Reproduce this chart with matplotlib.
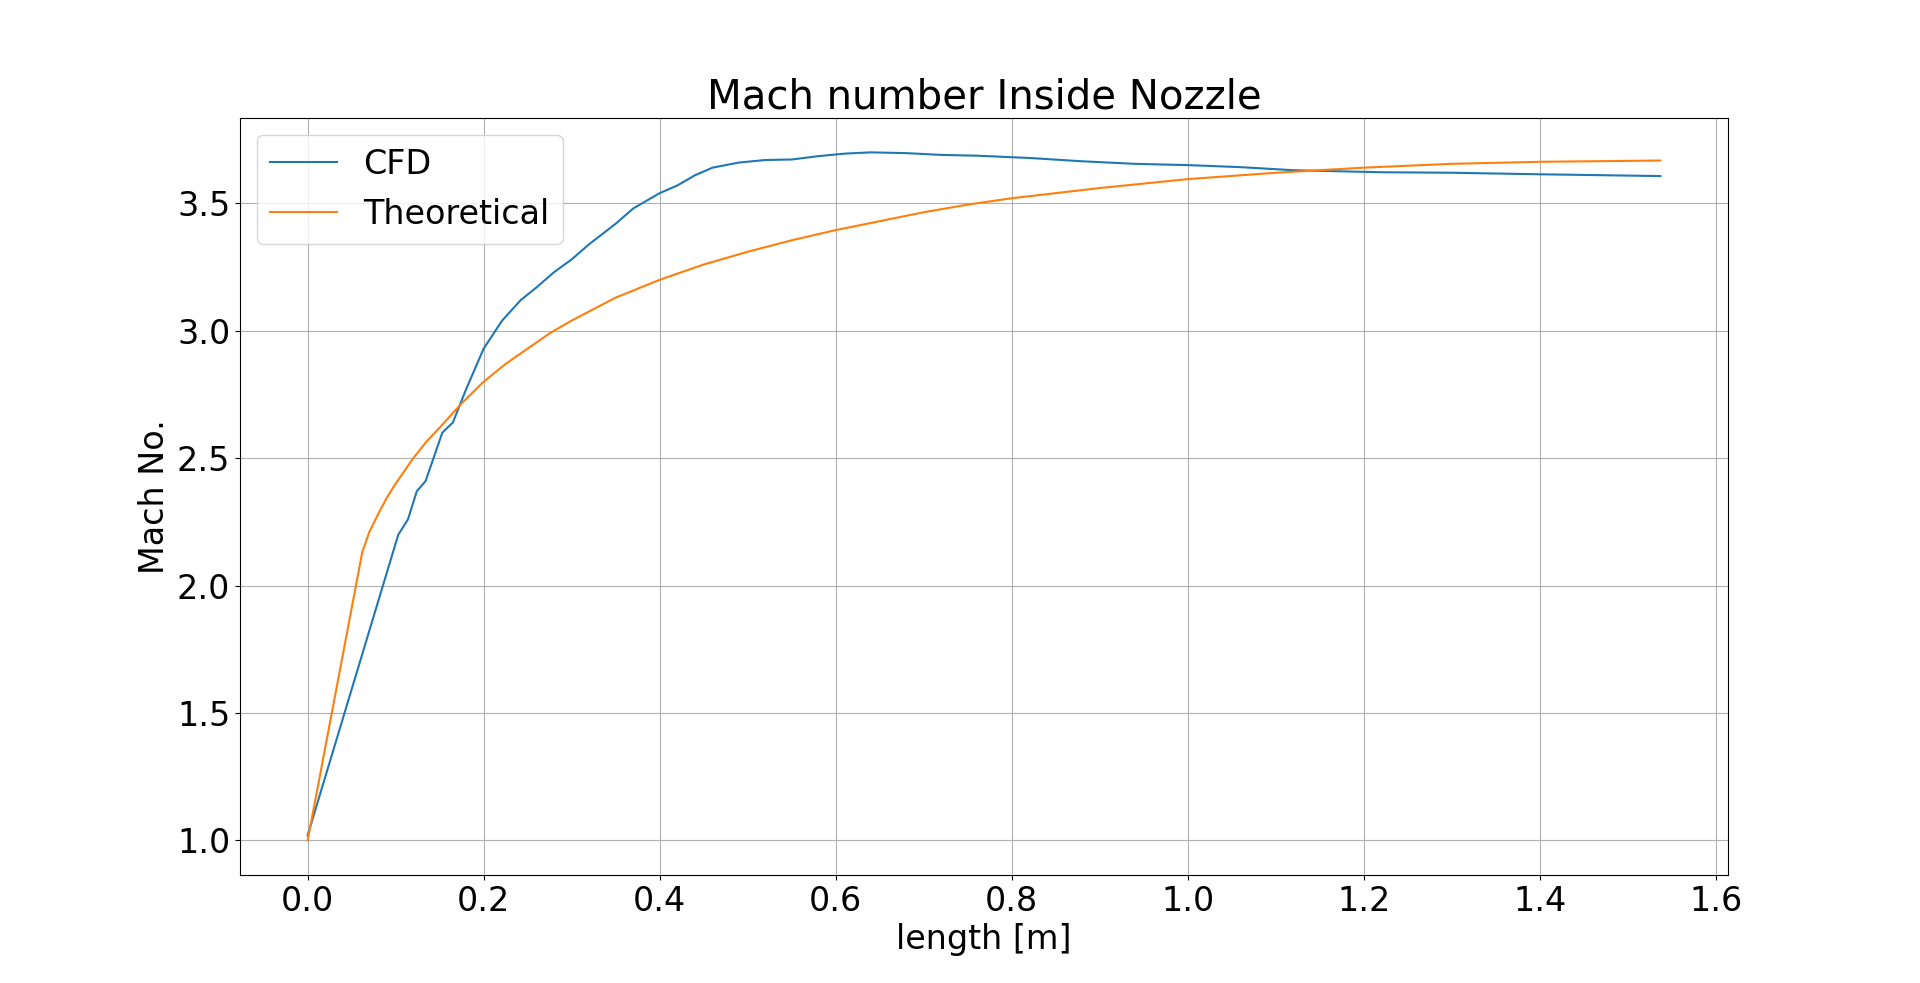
import matplotlib
matplotlib.use('Agg')
import matplotlib.pyplot as plt

cfd_x = [0.0, 0.103, 0.114, 0.124, 0.134, 0.153, 0.165, 0.18, 0.2, 0.221, 0.242, 0.26, 0.28,
         0.30, 0.32, 0.35, 0.37, 0.40, 0.42, 0.44, 0.46, 0.49, 0.52, 0.55, 0.58, 0.61, 0.64,
         0.68, 0.72, 0.76, 0.82, 0.88, 0.94, 1.0, 1.06, 1.12, 1.22, 1.3, 1.4, 1.537]
cfd_m = [1.02, 2.20, 2.26, 2.37, 2.41, 2.60, 2.64, 2.77, 2.93, 3.04, 3.12, 3.17, 3.23,
         3.28, 3.34, 3.42, 3.48, 3.54, 3.57, 3.61, 3.64, 3.66, 3.67, 3.672, 3.685, 3.695, 3.70,
         3.697, 3.69, 3.687, 3.678, 3.665, 3.655, 3.65, 3.642, 3.63, 3.622, 3.62, 3.614, 3.607]

th_x = [0.0, 0.062, 0.07, 0.08, 0.09, 0.1, 0.11, 0.12, 0.135, 0.15, 0.175, 0.2, 0.225, 0.25,
        0.275, 0.3, 0.325, 0.35, 0.375, 0.4, 0.45, 0.5, 0.55, 0.6, 0.65,
        0.7, 0.75, 0.8, 0.9, 1.0, 1.1, 1.2, 1.3, 1.4, 1.537]
th_m = [1.0, 2.13, 2.21, 2.28, 2.345, 2.40, 2.45, 2.50, 2.565, 2.62, 2.715, 2.80, 2.87, 2.93,
        2.99, 3.04, 3.085, 3.13, 3.165, 3.20, 3.26, 3.31, 3.355, 3.395, 3.43,
        3.465, 3.495, 3.52, 3.56, 3.595, 3.62, 3.64, 3.655, 3.663, 3.668]

plt.rcParams['font.size'] = 24
fig, ax = plt.subplots(figsize=(19.2, 9.83), dpi=100)
ax.plot(cfd_x, cfd_m, label='CFD')
ax.plot(th_x, th_m, label='Theoretical')
ax.set_title('Mach number Inside Nozzle', fontsize=29)
ax.set_xlabel('length [m]')
ax.set_ylabel('Mach No.')
ax.grid(True)
ax.legend(loc='upper left')
fig.savefig('out.png', dpi=100)
